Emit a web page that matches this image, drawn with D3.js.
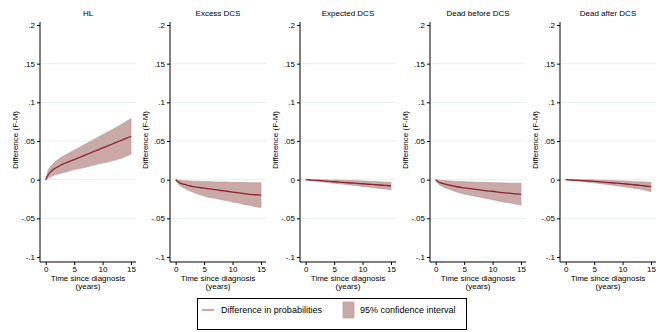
<!DOCTYPE html>
<html><head><meta charset="utf-8">
<script src="https://cdn.jsdelivr.net/npm/d3@7"></script>
<style>body{margin:0;background:#fff}svg{display:block;font-family:"Liberation Sans",Arial,sans-serif}</style>
</head><body><svg id="c" width="664" height="332"></svg>
<script>
const panels = ["HL","Excess DCS","Expected DCS","Dead before DCS","Dead after DCS"];
const times = [0,0.5,1,1.5,2,3,4,5,6,7,8,9,10,11,12,13,14,15];
const yTicks = [0.2,0.15,0.1,0.05,0,-0.05,-0.1];
const yTickLabels = [".2",".15",".1",".05","0","-.05","-.1"];
const xTicks = [0,5,10,15];

const hlEst = [0,0.007,0.011,0.014,0.016,0.020,0.023,0.026,0.029,0.032,0.035,0.038,0.041,0.044,0.047,0.050,0.053,0.056];
const hlUpp = [0,0.013,0.018,0.022,0.025,0.030,0.034,0.038,0.042,0.046,0.050,0.054,0.058,0.062,0.066,0.070,0.0745,0.079];
const hlLow = [0,0.002,0.004,0.006,0.007,0.009,0.011,0.013,0.0145,0.016,0.018,0.020,0.0215,0.023,0.025,0.027,0.030,0.033];

const exEst = [0,-0.003,-0.005,-0.006,-0.007,-0.009,-0.010,-0.011,-0.012,-0.013,-0.014,-0.015,-0.016,-0.017,-0.018,-0.019,-0.0195,-0.020];
const exUpp = [0,-0.0005,-0.001,-0.0015,-0.0015,-0.002,-0.002,-0.0025,-0.0025,-0.003,-0.003,-0.003,-0.0035,-0.0035,-0.0035,-0.004,-0.004,-0.004];
const exLow = [0,-0.006,-0.009,-0.011,-0.013,-0.016,-0.019,-0.021,-0.023,-0.024,-0.026,-0.027,-0.029,-0.030,-0.032,-0.033,-0.035,-0.036];

const edEst = [0,-0.0003,-0.0005,-0.0008,-0.001,-0.0016,-0.0021,-0.0027,-0.0032,-0.0037,-0.0043,-0.0048,-0.0053,-0.0059,-0.0064,-0.0069,-0.0075,-0.008];
const edUpp = [0,0,0,0,0,-0.0001,-0.0003,-0.0005,-0.0007,-0.0009,-0.0012,-0.0015,-0.0018,-0.0021,-0.0025,-0.0028,-0.0032,-0.0035];
const edLow = [0,-0.0006,-0.001,-0.0015,-0.002,-0.003,-0.0035,-0.0045,-0.0053,-0.0061,-0.007,-0.0078,-0.0087,-0.0096,-0.0105,-0.0114,-0.0122,-0.013];

const dbEst = [0,-0.003,-0.0045,-0.0055,-0.0065,-0.008,-0.0095,-0.0105,-0.0115,-0.0125,-0.0135,-0.0145,-0.015,-0.016,-0.017,-0.0175,-0.0183,-0.019];
const dbUpp = [0,-0.0005,-0.001,-0.0012,-0.0015,-0.002,-0.0023,-0.0026,-0.0029,-0.0032,-0.0035,-0.0037,-0.0039,-0.0041,-0.0043,-0.0045,-0.0046,-0.0047];
const dbLow = [0,-0.0055,-0.008,-0.010,-0.0115,-0.014,-0.0165,-0.0185,-0.020,-0.0215,-0.023,-0.0245,-0.026,-0.0275,-0.029,-0.030,-0.0315,-0.033];

const daEst = [0,-0.0002,-0.0004,-0.0006,-0.0008,-0.0012,-0.0017,-0.0022,-0.0028,-0.0034,-0.004,-0.0046,-0.0052,-0.0059,-0.0066,-0.0074,-0.0082,-0.009];
const daUpp = [0,0,0,0,0,-0.0001,-0.0002,-0.0004,-0.0006,-0.0008,-0.0011,-0.0014,-0.0017,-0.002,-0.0024,-0.0028,-0.0031,-0.0035];
const daLow = [0,-0.0005,-0.0009,-0.0013,-0.0017,-0.0025,-0.0033,-0.0041,-0.005,-0.0059,-0.0068,-0.0078,-0.0088,-0.0099,-0.011,-0.0121,-0.0138,-0.0155];

const series = [[hlEst,hlUpp,hlLow],[exEst,exUpp,exLow],[edEst,edUpp,edLow],[dbEst,dbUpp,dbLow],[daEst,daUpp,daLow]];

const LINE = "#8e2232", FILL = "#c9aaa7", FILLSTROKE = "#b99592", GRID = "#e6f0f1";
const svg = d3.select("#c");
const y = d3.scaleLinear().domain([-0.1,0.2]).range([257,25]);

panels.forEach((name,i)=>{
  const ax = 40 + 130*i;
  const x = d3.scaleLinear().domain([0,15]).range([ax+5.7, ax+91]);
  const g = svg.append("g");
  // gridlines
  g.selectAll("line.grid").data(yTicks.filter(v=>v<0.2 && v>-0.1)).join("line")
    .attr("x1",ax+1).attr("x2",ax+96).attr("y1",d=>y(d)).attr("y2",d=>y(d))
    .attr("stroke",GRID).attr("stroke-width",1);
  // CI band
  const [est,upp,low] = series[i];
  const pts = times.map((t,k)=>({t,e:est[k],u:upp[k],l:low[k]}));
  g.append("path").datum(pts)
    .attr("d", d3.area().x(d=>x(d.t)).y0(d=>y(d.l)).y1(d=>y(d.u)).curve(d3.curveMonotoneX))
    .attr("fill",FILL).attr("stroke",FILLSTROKE).attr("stroke-width",0.6);
  g.append("path").datum(pts)
    .attr("d", d3.line().x(d=>x(d.t)).y(d=>y(d.e)).curve(d3.curveMonotoneX))
    .attr("fill","none").attr("stroke",LINE).attr("stroke-width",1.3);
  // axes
  const yAxis = d3.axisLeft(y).tickValues(yTicks).tickFormat((d,k)=>yTickLabels[k]).tickSize(3).tickPadding(2);
  const ga = svg.append("g").attr("transform",`translate(${ax},0)`).call(yAxis);
  ga.select(".domain").attr("d",`M0,22V262`).attr("stroke","#000");
  ga.selectAll("text").attr("font-size",8).attr("fill","#000").attr("font-family","Liberation Sans, Arial, sans-serif");
  const xAxis = d3.axisBottom(x).tickValues(xTicks).tickSize(3).tickPadding(1);
  const gx = svg.append("g").attr("transform",`translate(0,262)`).call(xAxis);
  gx.select(".domain").attr("d",`M${ax},0H${ax+96}`).attr("stroke","#000");
  gx.selectAll("text").attr("font-size",8).attr("fill","#000").attr("font-family","Liberation Sans, Arial, sans-serif");
  // titles
  svg.append("text").attr("x",ax+48).attr("y",16).attr("text-anchor","middle").attr("font-size",8).text(name);
  svg.append("text").attr("x",ax+48).attr("y",281).attr("text-anchor","middle").attr("font-size",8).text("Time since diagnosis");
  svg.append("text").attr("x",ax+48).attr("y",289).attr("text-anchor","middle").attr("font-size",8).text("(years)");
  svg.append("text").attr("transform",`translate(${ax-22},140) rotate(-90)`).attr("text-anchor","middle").attr("font-size",8).text("Difference (F-M)");
});

// legend
const lg = svg.append("g");
lg.append("rect").attr("x",197.5).attr("y",298.5).attr("width",269).attr("height",31).attr("fill","#fff").attr("stroke","#000").attr("stroke-width",1);
lg.append("line").attr("x1",202).attr("x2",214).attr("y1",310).attr("y2",310).attr("stroke",LINE).attr("stroke-opacity",0.55).attr("stroke-width",1.5);
lg.append("text").attr("x",221).attr("y",313).attr("font-size",9).text("Difference in probabilities");
lg.append("rect").attr("x",343).attr("y",302).attr("width",11).attr("height",16).attr("fill",FILL).attr("stroke",FILLSTROKE).attr("stroke-width",0.6);
lg.append("text").attr("x",360).attr("y",313).attr("font-size",9).text("95% confidence interval");
</script></body></html>
